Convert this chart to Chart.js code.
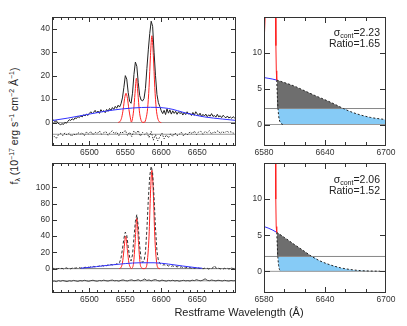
<!DOCTYPE html>
<html>
<head>
<meta charset="utf-8">
<script src="https://cdn.jsdelivr.net/npm/chart.js@4.4.1/dist/chart.umd.min.js"></script>
<style>
  html, body { margin: 0; padding: 0; background: #fff; }
  #fig { position: relative; width: 407px; height: 326px; overflow: hidden;
         font-family: "Liberation Sans", Arial, sans-serif; color: #222; }
  #fig canvas { position: absolute; }
  .note { position: absolute; right: 27px; text-align: right; font-size: 10.5px; line-height: 11px; white-space: nowrap; }
  .note sub { font-size: 7px; vertical-align: -2px; line-height: 0; }
  #ytitle { position: absolute; left: 14px; top: 126px; transform: translate(-50%, -50%) rotate(-90deg);
            white-space: nowrap; font-size: 10.5px; }
  #ytitle sup { font-size: 7px; vertical-align: 4px; line-height: 0; }
  #ytitle sub { font-size: 7px; vertical-align: -2px; line-height: 0; }
  #xtitle { position: absolute; left: 239px; top: 312px; transform: translate(-50%, -50%);
            white-space: nowrap; font-size: 11px; }
</style>
</head>
<body>
<div id="fig">
  <canvas id="tl"></canvas>
  <canvas id="tr"></canvas>
  <canvas id="bl"></canvas>
  <canvas id="br"></canvas>
  <div class="note" style="top:27px">&sigma;<sub>cont</sub>=2.23<br>Ratio=1.65</div>
  <div class="note" style="top:174px">&sigma;<sub>cont</sub>=2.06<br>Ratio=1.52</div>
  <div id="ytitle">f<sub>&lambda;</sub> (10<sup>&minus;17</sup> erg s<sup>&minus;1</sup> cm<sup>&minus;2</sup> &Aring;<sup>&minus;1</sup>)</div>
  <div id="xtitle">Restframe Wavelength (&Aring;)</div>
</div>
<script>
// ---- data ----
const specWave = [6448,6450,6452,6454,6456,6458,6460,6462,6464,6466,6468,6470,6472,6474,6476,6478,6480,6482,6484,6486,
  6488,6490,6492,6494,6496,6498,6500,6502,6504,6506,6508,6510,6512,6514,6516,6518,6520,6522,6524,6526,
  6528,6530,6532,6534,6536,6538,6540,6542,6544,6546,6548,6550,6552,6554,6556,6558,6560,6562,6564,6566,
  6568,6570,6572,6574,6576,6578,6580,6582,6584,6586,6588,6590,6592,6594,6596,6598,6600,6602,6604,6606,
  6608,6610,6612,6614,6616,6618,6620,6622,6624,6626,6628,6630,6632,6634,6636,6638,6640,6642,6644,6646,
  6648,6650,6652,6654,6656,6658,6660,6662,6664,6666,6668,6670,6672,6674,6676,6678,6680,6682,6684,6686,
  6688,6690,6692,6694,6696,6698,6700,6702,6704];

const tlFlux = [0.6,1.0,0.4,0.8,-0.2,-0.6,-0.9,-0.5,-0.8,0.1,
  -0.3,0.5,1.2,0.9,1.6,1.1,2.0,1.7,2.6,2.1,
  2.9,2.4,3.3,2.8,3.6,3.0,3.9,4.6,3.8,4.4,
  5.2,4.1,4.9,3.9,5.5,4.6,5.1,4.2,5.6,4.8,
  6.0,5.2,6.4,5.6,6.9,6.1,7.4,6.6,8.0,10.5,
  15.0,20.0,18.5,12.8,9.0,8.2,12.5,20.5,25.8,24.0,
  17.0,11.5,9.6,9.2,10.2,14.5,23.0,31.0,38.0,43.2,
  41.0,30.0,20.0,12.0,8.5,6.8,5.0,3.8,5.2,3.4,
  5.8,4.0,5.4,3.6,5.0,3.9,4.8,3.5,4.6,3.8,
  4.4,3.2,4.2,3.4,4.6,3.6,3.9,3.0,4.3,3.1,
  4.6,3.7,3.0,4.0,2.6,3.5,2.8,3.6,2.5,3.3,
  2.7,3.8,2.6,3.0,2.3,3.5,2.4,2.9,2.1,3.1,
  2.5,2.0,2.8,1.9,2.4,1.8,2.5,2.0,2.2];

const blFlux = [-0.5,0.3,-0.8,0.2,-0.4,0.6,-0.2,0.5,-0.6,0.4,
  1.0,0.1,0.8,-0.3,0.6,1.2,0.4,1.0,0.2,1.3,
  0.6,1.5,0.9,1.8,1.1,2.0,1.4,2.4,1.7,2.8,
  2.1,3.2,2.5,3.5,2.8,3.9,3.2,4.4,3.6,4.7,
  4.0,5.2,4.5,5.6,5.0,6.0,5.8,7.5,13,24,
  37,45,41,27,14,9.5,17,38,58,66.5,
  52,28,12,7.5,9,20,48,85,114,126,
  118,88,50,22,10,6.5,5.5,4.2,5.0,3.6,
  4.5,3.2,4.0,2.8,3.5,2.4,3.1,2.0,2.7,1.6,
  2.3,1.2,2.0,0.9,1.6,0.6,1.4,0.3,1.1,0.2,
  0.9,-0.1,0.7,0.0,0.8,-0.3,0.5,-0.2,0.4,-0.5,
  0.3,0.0,1.2,3.8,1.0,-0.3,0.6,-0.4,0.2,-0.6,
  0.4,-0.2,0.5,-0.5,0.1,1.5,-0.3,0.4,-0.2];

const resWave = [6448,6451,6454,6457,6460,6463,6466,6469,6472,6475,
  6478,6481,6484,6487,6490,6493,6496,6499,6502,6505,
  6508,6511,6514,6517,6520,6523,6526,6529,6532,6535,
  6538,6541,6544,6547,6550,6553,6556,6559,6562,6565,
  6568,6571,6574,6577,6580,6583,6586,6589,6592,6595,
  6598,6601,6604,6607,6610,6613,6616,6619,6622,6625,
  6628,6631,6634,6637,6640,6643,6646,6649,6652,6655,
  6658,6661,6664,6667,6670,6673,6676,6679,6682,6685,
  6688,6691,6694,6697,6700,6703];

const tlRes = [-6.5,-5.8,-6.8,-5.2,-4.6,-5.6,-4.4,-5.3,-4.5,-5.9,
  -4.8,-5.4,-4.2,-5.0,-4.3,-5.6,-4.0,-4.9,-3.8,-5.2,
  -4.1,-4.7,-3.6,-5.0,-4.3,-3.9,-5.4,-4.2,-3.5,-4.8,
  -4.0,-5.6,-3.9,-4.4,-3.3,-5.5,-4.1,-6.0,-3.6,-4.7,
  -3.4,-5.8,-4.2,-5.1,-4.3,-6.4,-3.8,-7.5,-5.2,-7.8,
  -6.1,-4.5,-7.0,-5.3,-6.5,-4.8,-5.9,-4.4,-5.6,-5.0,
  -4.1,-5.7,-4.6,-5.2,-3.9,-4.8,-3.6,-5.1,-4.0,-3.7,
  -5.0,-3.8,-4.4,-3.5,-4.9,-3.9,-4.3,-3.4,-4.7,-3.8,
  -4.5,-3.6,-4.2,-3.9,-4.6,-4.0];

const blRes = [-15.8,-15.2,-16.0,-14.8,-15.5,-14.6,-15.3,-15.9,-14.9,-15.4,
  -14.5,-15.1,-15.7,-14.7,-15.2,-14.4,-15.0,-15.6,-14.8,-14.3,
  -15.1,-15.5,-14.6,-15.0,-14.2,-14.9,-15.3,-14.5,-14.1,-15.0,
  -14.7,-15.4,-14.4,-13.9,-14.8,-15.2,-14.3,-13.8,-14.9,-14.5,
  -13.6,-15.0,-14.2,-12.8,-14.6,-13.9,-15.1,-14.0,-13.5,-14.7,
  -15.3,-14.1,-14.8,-15.4,-14.5,-15.0,-14.3,-15.2,-14.6,-15.5,
  -14.9,-14.4,-15.1,-14.7,-15.3,-14.2,-14.8,-13.6,-14.5,-15.0,
  -14.1,-12.5,-14.4,-14.9,-14.0,-14.6,-15.1,-14.3,-14.7,-15.2,
  -14.4,-14.9,-15.3,-14.6,-15.0,-14.8];
const tlResLevel = -5;
const blResLevel = -15;

const tlContWave = [6448,6470,6500,6530,6560,6585,6610,6635,6660,6685,6704];
const tlCont = [0.85,1.9,3.6,5.2,6.2,6.5,6.0,4.0,2.4,1.5,0.9];
const blContWave = [6488,6510,6530,6550,6570,6590,6610,6630,6650,6657];
const blCont = [0.5,2.5,4.5,6.2,7.2,7.2,5.6,3.2,1.0,0.5];

const tlLineWave = [6540,6543,6545,6547,6549,6551,6553,6555,6557,6558.5,
  6559.5,6561.5,6563.5,6565.5,6567.5,6569.5,6571.5,6574,6576.5,
  6579,6581,6583,6585,6587,6589,6591,6593,6595,6597.5,6600];
const tlLineFlux = [0,0.6,2.2,5.6,10.2,12.5,10.2,5.6,2.0,0.2,
  1.0,5.0,12.5,18.9,12.5,5.0,1.4,0.1,0.1,
  2.0,6.0,15,28.5,37,28.5,15,6.0,2.0,0.3,0];
const blLineWave = [6541.5,6544,6546,6548,6550.5,6553,6555,6557,6558.5,
  6559,6561.5,6563.5,6566,6568.5,6570.5,6573,6575.5,
  6578,6580.5,6583,6585,6587,6589,6591,6593.5,6596,6598];
const blLineFlux = [0,1.5,7,22,40,22,7,1.5,0.1,
  0.3,7,30,62,30,7,0.8,0,
  0.5,8,40,92,121,92,40,8,0.5,0];

// zoomed panels (right column)
const trSigma = 2.23;
const brSigma = 2.06;
const trRedWave = [6580,6580.5,6581.1,6586,6591.3,6591.7,6592.1,6592.5];
const trRedFlux = [11.0,12.8,15,null,15,11,7.5,6.2];
const trContWave = [6580,6584,6588,6592.5];
const trContFlux = [6.55,6.45,6.35,6.2];
const trModelWave = [6592.5,6600,6610,6620,6630,6640,6650,6658,6665,6674,6685,6700];
const trModelFlux = [6.2,5.85,5.35,4.7,4.05,3.45,2.8,2.23,1.8,1.37,0.98,0.68];
const trEdgeWave = [6592.5,6593.2,6593.8,6594.5,6595.5,6597,6598.5];
const trEdgeFlux = [6.2,3.8,2.23,1.1,0.45,0.12,0];
const trFillWave = [6593.8,6594.5,6595.5,6597,6598.5,6658,6665,6674,6685,6700];
const trFillTop = [2.23,2.23,2.23,2.23,2.23,2.23,1.8,1.37,0.98,0.68];
const trFillBase = [2.23,1.1,0.45,0.12,0,0,0,0,0,0];

const brRedWave = [6591.3,6591.6,6592.0,6592.5];
const brRedFlux = [15,10,6.2,5.4];
const brContWave = [6580,6584,6588,6592.5];
const brContFlux = [6.2,6.0,5.75,5.4];
const brModelWave = [6592.5,6600,6610,6620,6627,6635,6645,6655,6665,6675,6685,6694];
const brModelFlux = [5.4,4.7,3.7,2.75,2.06,1.45,0.9,0.5,0.25,0.1,0.04,0.02];
const brEdgeWave = [6592.5,6593.1,6593.6,6594.2,6595,6596.2];
const brEdgeFlux = [5.4,3.5,2.06,1.0,0.35,0];
const brFillWave = [6593.6,6594.2,6595,6596.2,6627,6635,6645,6655,6665,6675,6685,6694];
const brFillTop = [2.06,2.06,2.06,2.06,2.06,1.45,0.9,0.5,0.25,0.1,0.04,0.02];
const brFillBase = [2.06,1.0,0.35,0,0,0,0,0,0,0,0,0];

// tick labels
const leftXLabels = [6500,6550,6600,6650];
const leftXMajor = [6500,6600];
const rightXLabels = [6580,6640,6700];
const rightXMajor = [6640];
const tlYLabels = [0,10,20,30,40];
const blYLabels = [0,20,40,60,80,100];
const rightYLabels = [0,5,10];

// ---- drawing ----
const RED = '#ff2020', BLUE = '#3030ff', GREY = '#999', INK = '#222';
const SKY = '#86cbf6', DARK = '#6e6e6e';

function line(xs, ys, color, extra) {
  return Object.assign({
    data: xs.map(function(x, i) { return { x: x, y: ys[i] }; }),
    borderColor: color, borderWidth: 1, pointRadius: 0, fill: false, tension: 0
  }, extra || {});
}
function hline(y, x0, x1, color, extra) { return line([x0, x1], [y, y], color, extra); }
const smooth = { cubicInterpolationMode: 'monotone' };

// ticks drawn inside the frame on all four sides, like the original plot
const boxTicks = {
  id: 'boxTicks',
  afterDatasetsDraw(chart, args, o) {
    const ctx = chart.ctx, a = chart.chartArea, sx = chart.scales.x, sy = chart.scales.y;
    ctx.save();
    ctx.strokeStyle = '#333';
    ctx.lineWidth = 1;
    ctx.beginPath();
    function vt(v, len) {
      const p = Math.round(sx.getPixelForValue(v)) + 0.5;
      ctx.moveTo(p, a.bottom); ctx.lineTo(p, a.bottom - len);
      ctx.moveTo(p, a.top); ctx.lineTo(p, a.top + len);
    }
    function ht(v, len) {
      const p = Math.round(sy.getPixelForValue(v)) + 0.5;
      ctx.moveTo(a.left, p); ctx.lineTo(a.left + len, p);
      ctx.moveTo(a.right, p); ctx.lineTo(a.right - len, p);
    }
    for (let v = o.xMinorFrom; v < sx.max; v += o.xMinorStep) vt(v, o.minor);
    o.xMajor.forEach(function(v) { vt(v, o.major); });
    o.yMajor.forEach(function(v) { ht(v, o.major); });
    ctx.stroke();
    ctx.strokeRect(a.left + 0.5, a.top + 0.5, a.right - a.left - 1, a.bottom - a.top - 1);
    ctx.restore();
  }
};

const tickFont = { family: '"Liberation Sans", Arial, sans-serif', size: 8.5 };

function makePanel(id, box, cfg) {
  const cv = document.getElementById(id);
  const w = box.r - box.l + 30 + 14, h = box.b - box.t + 8 + 16;
  cv.width = w; cv.height = h;
  cv.style.width = w + 'px'; cv.style.height = h + 'px';
  cv.style.left = (box.l - 30) + 'px';
  cv.style.top = (box.t - 8) + 'px';
  const axis = function(min, max, labels, fit) {
    return {
      type: 'linear', min: min, max: max,
      grid: { display: false, drawTicks: false },
      border: { display: false },
      afterBuildTicks: function(s) { s.ticks = labels.map(function(v) { return { value: v }; }); },
      afterFit: fit,
      ticks: { padding: 2, font: tickFont, color: '#333', autoSkip: false, maxRotation: 0,
               callback: function(v) { return String(v); } }
    };
  };
  return new Chart(cv, {
    type: 'line',
    data: { datasets: cfg.datasets },
    options: {
      responsive: false, animation: false, devicePixelRatio: 1,
      layout: { padding: { left: 0, top: 8, right: 14, bottom: 0 } },
      plugins: {
        legend: { display: false }, tooltip: { enabled: false },
        filler: { drawTime: 'beforeDatasetsDraw' },
        boxTicks: cfg.ticks
      },
      scales: {
        x: axis(cfg.x[0], cfg.x[1], cfg.xLabels, function(s) { s.height = 16; }),
        y: axis(cfg.y[0], cfg.y[1], cfg.yLabels, function(s) { s.width = 30; })
      }
    },
    plugins: [boxTicks]
  });
}

const LX = [6448, 6704], RX = [6580, 6700];

makePanel('tl', { l: 52, t: 17, r: 236, b: 146 }, {
  x: LX, y: [-10, 45], xLabels: leftXLabels, yLabels: tlYLabels,
  ticks: { xMinorFrom: 6450, xMinorStep: 10, xMajor: leftXMajor, yMajor: tlYLabels, major: 5, minor: 3 },
  datasets: [
    line(tlContWave, tlCont, BLUE, smooth),
    line(specWave, tlFlux, INK),
    line(tlLineWave, tlLineFlux, RED, smooth),
    line(resWave, tlRes, '#333', { borderDash: [1.5, 1.5] }),
    hline(tlResLevel, LX[0], LX[1], GREY),
    hline(0, LX[0], LX[1], GREY)
  ]
});

makePanel('bl', { l: 52, t: 163, r: 236, b: 293 }, {
  x: LX, y: [-30, 130], xLabels: leftXLabels, yLabels: blYLabels,
  ticks: { xMinorFrom: 6450, xMinorStep: 10, xMajor: leftXMajor, yMajor: blYLabels, major: 5, minor: 3 },
  datasets: [
    line(blContWave, blCont, BLUE, smooth),
    line(specWave, blFlux, '#333', { borderDash: [3, 2] }),
    line(blLineWave, blLineFlux, RED, smooth),
    line(resWave, blRes, '#444'),
    hline(blResLevel, LX[0], LX[1], GREY),
    hline(0, LX[0], LX[1], '#777')
  ]
});

function zoomPanel(id, box, sigma, d) {
  return makePanel(id, box, {
    x: RX, y: [-3, 15], xLabels: rightXLabels, yLabels: rightYLabels,
    ticks: { xMinorFrom: 6600, xMinorStep: 20, xMajor: rightXMajor, yMajor: rightYLabels, major: 6, minor: 4 },
    datasets: [
      line(d.redW, d.redF, RED),
      line(d.contW, d.contF, BLUE, smooth),
      line(d.modelW, d.modelF, INK, Object.assign({ borderDash: [2, 2],
        fill: { target: { value: sigma }, above: DARK, below: 'rgba(0,0,0,0)' } }, smooth)),
      line(d.edgeW, d.edgeF, INK, Object.assign({ borderDash: [2, 2] }, smooth)),
      hline(sigma, RX[0], RX[1], '#888'),
      hline(0, RX[0], RX[1], '#999'),
      line(d.fillW, d.fillTop, 'rgba(0,0,0,0)', Object.assign({ borderWidth: 0,
        fill: { target: '+1', above: SKY, below: SKY } }, smooth)),
      line(d.fillW, d.fillBase, 'rgba(0,0,0,0)', Object.assign({ borderWidth: 0 }, smooth))
    ]
  });
}

zoomPanel('tr', { l: 264, t: 17, r: 386, b: 146 }, trSigma, {
  redW: trRedWave, redF: trRedFlux, contW: trContWave, contF: trContFlux,
  modelW: trModelWave, modelF: trModelFlux, edgeW: trEdgeWave, edgeF: trEdgeFlux,
  fillW: trFillWave, fillTop: trFillTop, fillBase: trFillBase
});

zoomPanel('br', { l: 264, t: 163, r: 386, b: 293 }, brSigma, {
  redW: brRedWave, redF: brRedFlux, contW: brContWave, contF: brContFlux,
  modelW: brModelWave, modelF: brModelFlux, edgeW: brEdgeWave, edgeF: brEdgeFlux,
  fillW: brFillWave, fillTop: brFillTop, fillBase: brFillBase
});
</script>
</body>
</html>
